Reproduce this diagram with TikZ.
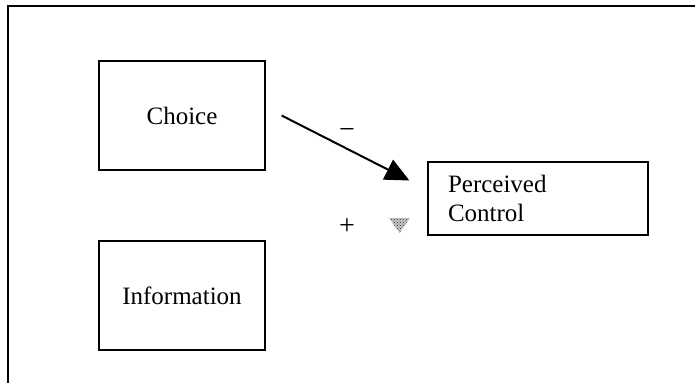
\documentclass[tikz,border=0pt]{standalone}
\usepackage{fontspec}
\setmainfont{Liberation Serif}
\usepackage{tikz}
\usetikzlibrary{positioning}
\usetikzlibrary{arrows.meta}
\usetikzlibrary{patterns}
\tikzset{>=latex}
\tikzset{
  varbox/.style={draw, line width=1.3pt, minimum width=166pt,
    minimum height=109pt, inner sep=0pt,
    font=\fontsize{25}{29}\selectfont},
  signlabel/.style={inner sep=0pt, font=\fontsize{28}{30}\selectfont},
}

\begin{document}
\begin{tikzpicture}[x=1pt,y=-1pt]
\useasboundingbox (0,0) rectangle (695,383);

% Outer frame (right and bottom run off the page)
\draw[line width=1.2pt] (695,6) -- (8,6) -- (8,383);

% ---------- Boxes ----------
\node[varbox] (choice) at (182,115.5) {Choice};
\node[varbox] (info) at (182,295.5) {Information};
\node[varbox, minimum width=220pt, minimum height=73pt, text width=180pt,
  inner xsep=20pt, align=left] (control) at (538,198.5) {Perceived\\Control};

% ---------- Path ----------
\coordinate (tail) at ([xshift=16pt]choice.east);
\coordinate (tip) at ([xshift=-18pt,yshift=18pt]control.west);
\draw[-{Triangle[length=24pt,width=22pt]}, line width=2pt] (tail) -- (tip);

% Signs
\node[signlabel] (minus) at (347,133) {−};
\node[signlabel] (plus) at (347,227) {+};

% Faint marker
\fill[gray!45] (389,218) -- (410,218) -- (399.5,233) -- cycle;
\fill[pattern=crosshatch dots, pattern color=black!80]
  (389,218) -- (410,218) -- (399.5,233) -- cycle;

\end{tikzpicture}
\end{document}
